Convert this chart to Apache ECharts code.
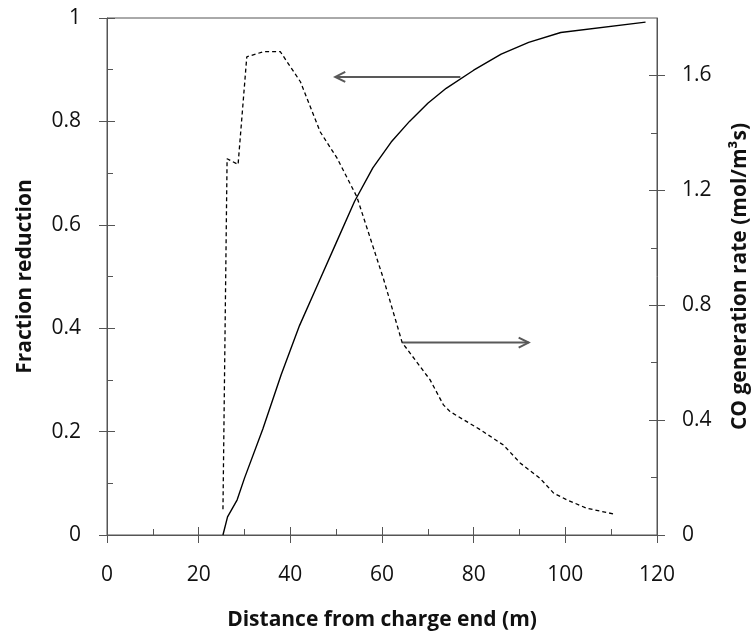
<!DOCTYPE html>
<html>
<head>
<meta charset="utf-8">
<script src="https://cdn.jsdelivr.net/npm/echarts@6/dist/echarts.min.js"></script>
<style>
  html, body { margin: 0; padding: 0; background: #fff; }
  #chart { width: 756px; height: 633px; }
</style>
</head>
<body>
<div id="chart"></div>
<script>
// Fraction reduction along the kiln (left axis)
const reductionX = [25.3, 26.3, 28.4, 30, 34, 38, 42, 46, 50, 54, 58, 62, 66, 70, 74, 80, 86, 92, 99, 117.5];
const reductionY = [0, 0.035, 0.068, 0.11, 0.205, 0.31, 0.405, 0.485, 0.565, 0.645, 0.71, 0.76, 0.80, 0.835, 0.864, 0.899, 0.93, 0.953, 0.972, 0.992];

// CO generation rate along the kiln (right axis)
const coX = [25.3, 26.2, 28.6, 30.5, 34.2, 37.8, 42.2, 46.5, 50.2, 54.5, 60.4, 64.4, 70.5, 73.4, 74.9, 81.5, 86.5, 90.2, 94.5, 97.5, 100.4, 104.7, 110.9];
const coRate = [0.09, 1.31, 1.29, 1.665, 1.683, 1.683, 1.578, 1.404, 1.312, 1.178, 0.888, 0.670, 0.540, 0.453, 0.429, 0.366, 0.313, 0.250, 0.197, 0.145, 0.122, 0.093, 0.072];

// Tick positions
const distanceTicks = [0, 20, 40, 60, 80, 100, 120];
const distanceMinor = [10, 30, 50, 70, 90, 110];
const fractionTicks = [0, 0.2, 0.4, 0.6, 0.8, 1];
const fractionMinor = [0.1, 0.3, 0.5, 0.7, 0.9];
const rateTicks = [0, 0.4, 0.8, 1.2, 1.6];
const rateMinor = [0.2, 0.6, 1.0, 1.4];

// Pointer arrows: [x from, y from, x to, y to], each pointing to the axis its curve is read on
const fractionArrow = [77.1, 0.886, 49.8, 0.886];
const rateArrow = [64.4, 0.670, 92.0, 0.670];

const FONT = "'Open Sans', 'Noto Sans', sans-serif";
const AXIS_COLOR = '#555555';
const TEXT_COLOR = '#111111';

// One axis side is drawn as three stacked axes: main (line, labels, inner major ticks),
// outer major ticks, and inner minor ticks.
function axisSet(base, major, minor, extra) {
  const hidden = { show: false };
  const main = Object.assign({}, base, {
    axisLine: { show: true, onZero: false, lineStyle: { color: AXIS_COLOR, width: 1 } },
    axisTick: { show: true, inside: true, length: 8, customValues: major, lineStyle: { color: AXIS_COLOR, width: 1 } },
    axisLabel: Object.assign({ show: true, customValues: major, color: TEXT_COLOR, fontFamily: FONT, fontSize: 21 }, extra.label),
    splitLine: hidden
  }, extra.main);
  const outer = Object.assign({}, base, {
    axisLine: { show: false, onZero: false },
    axisTick: { show: true, inside: false, length: 8, customValues: major, lineStyle: { color: AXIS_COLOR, width: 1 } },
    axisLabel: hidden,
    splitLine: hidden
  });
  const minorAxis = Object.assign({}, base, {
    axisLine: { show: false, onZero: false },
    axisTick: { show: true, inside: true, length: 6, customValues: minor, lineStyle: { color: AXIS_COLOR, width: 1 } },
    axisLabel: hidden,
    splitLine: hidden
  });
  return [main, outer, minorAxis];
}

const nameStyle = { fontFamily: FONT, fontSize: 21, fontWeight: 'bold', color: TEXT_COLOR };

const xAxes = axisSet(
  { type: 'value', position: 'bottom', min: 0, max: 120, gridIndex: 0 },
  distanceTicks, distanceMinor,
  {
    label: { margin: 30 },
    main: { name: 'Distance from charge end (m)', nameLocation: 'middle', nameGap: 75, nameTextStyle: nameStyle }
  }
);

const leftAxes = axisSet(
  { type: 'value', position: 'left', offset: 0, min: 0, max: 1, gridIndex: 0 },
  fractionTicks, fractionMinor,
  {
    label: { margin: 26 },
    main: { name: 'Fraction reduction', nameLocation: 'middle', nameRotate: 90, nameGap: 71, nameTextStyle: nameStyle }
  }
);

const rightAxes = axisSet(
  { type: 'value', position: 'right', offset: 0, min: 0, max: 1.8, gridIndex: 0 },
  rateTicks, rateMinor,
  {
    label: { margin: 25 },
    main: { name: 'CO generation rate (mol/m³s)', nameLocation: 'middle', nameRotate: 90, nameGap: 73, nameTextStyle: nameStyle }
  }
);

function arrowItem(params, api) {
  const a = api.coord([api.value(0), api.value(1)]);
  const b = api.coord([api.value(2), api.value(3)]);
  const dx = b[0] - a[0], dy = b[1] - a[1];
  const len = Math.hypot(dx, dy) || 1;
  const ux = dx / len, uy = dy / len;
  const head = 10, half = 5;
  const bx = b[0] - ux * head, by = b[1] - uy * head;
  const style = { stroke: '#595959', lineWidth: 2, fill: null };
  return {
    type: 'group',
    children: [
      { type: 'line', shape: { x1: a[0], y1: a[1], x2: b[0], y2: b[1] }, style: style },
      { type: 'polyline', shape: { points: [[bx - uy * half, by + ux * half], [b[0], b[1]], [bx + uy * half, by - ux * half]] }, style: style }
    ]
  };
}

const chart = echarts.init(document.getElementById('chart'), null, { renderer: 'canvas' });
chart.setOption({
  animation: false,
  backgroundColor: '#ffffff',
  textStyle: { fontFamily: FONT },
  grid: {
    left: 107, right: 99, top: 18, bottom: 98,
    containLabel: false,
    outerBoundsMode: 'none',
    show: true, borderColor: AXIS_COLOR, borderWidth: 1, backgroundColor: 'transparent'
  },
  xAxis: xAxes,
  yAxis: leftAxes.concat(rightAxes),
  series: [
    {
      name: 'Fraction reduction',
      type: 'line',
      xAxisIndex: 0, yAxisIndex: 0,
      data: reductionX.map((x, i) => [x, reductionY[i]]),
      symbol: 'none',
      lineStyle: { color: '#000000', width: 1.4, type: 'solid' }
    },
    {
      name: 'CO generation rate',
      type: 'line',
      xAxisIndex: 0, yAxisIndex: 3,
      data: coX.map((x, i) => [x, coRate[i]]),
      symbol: 'none',
      lineStyle: { color: '#000000', width: 1.3, type: [4, 3] }
    },
    {
      type: 'custom',
      xAxisIndex: 0, yAxisIndex: 0,
      renderItem: arrowItem,
      encode: { x: [0, 2], y: [1, 3] },
      data: [fractionArrow],
      silent: true
    },
    {
      type: 'custom',
      xAxisIndex: 0, yAxisIndex: 3,
      renderItem: arrowItem,
      encode: { x: [0, 2], y: [1, 3] },
      data: [rateArrow],
      silent: true
    }
  ]
});
</script>
</body>
</html>
